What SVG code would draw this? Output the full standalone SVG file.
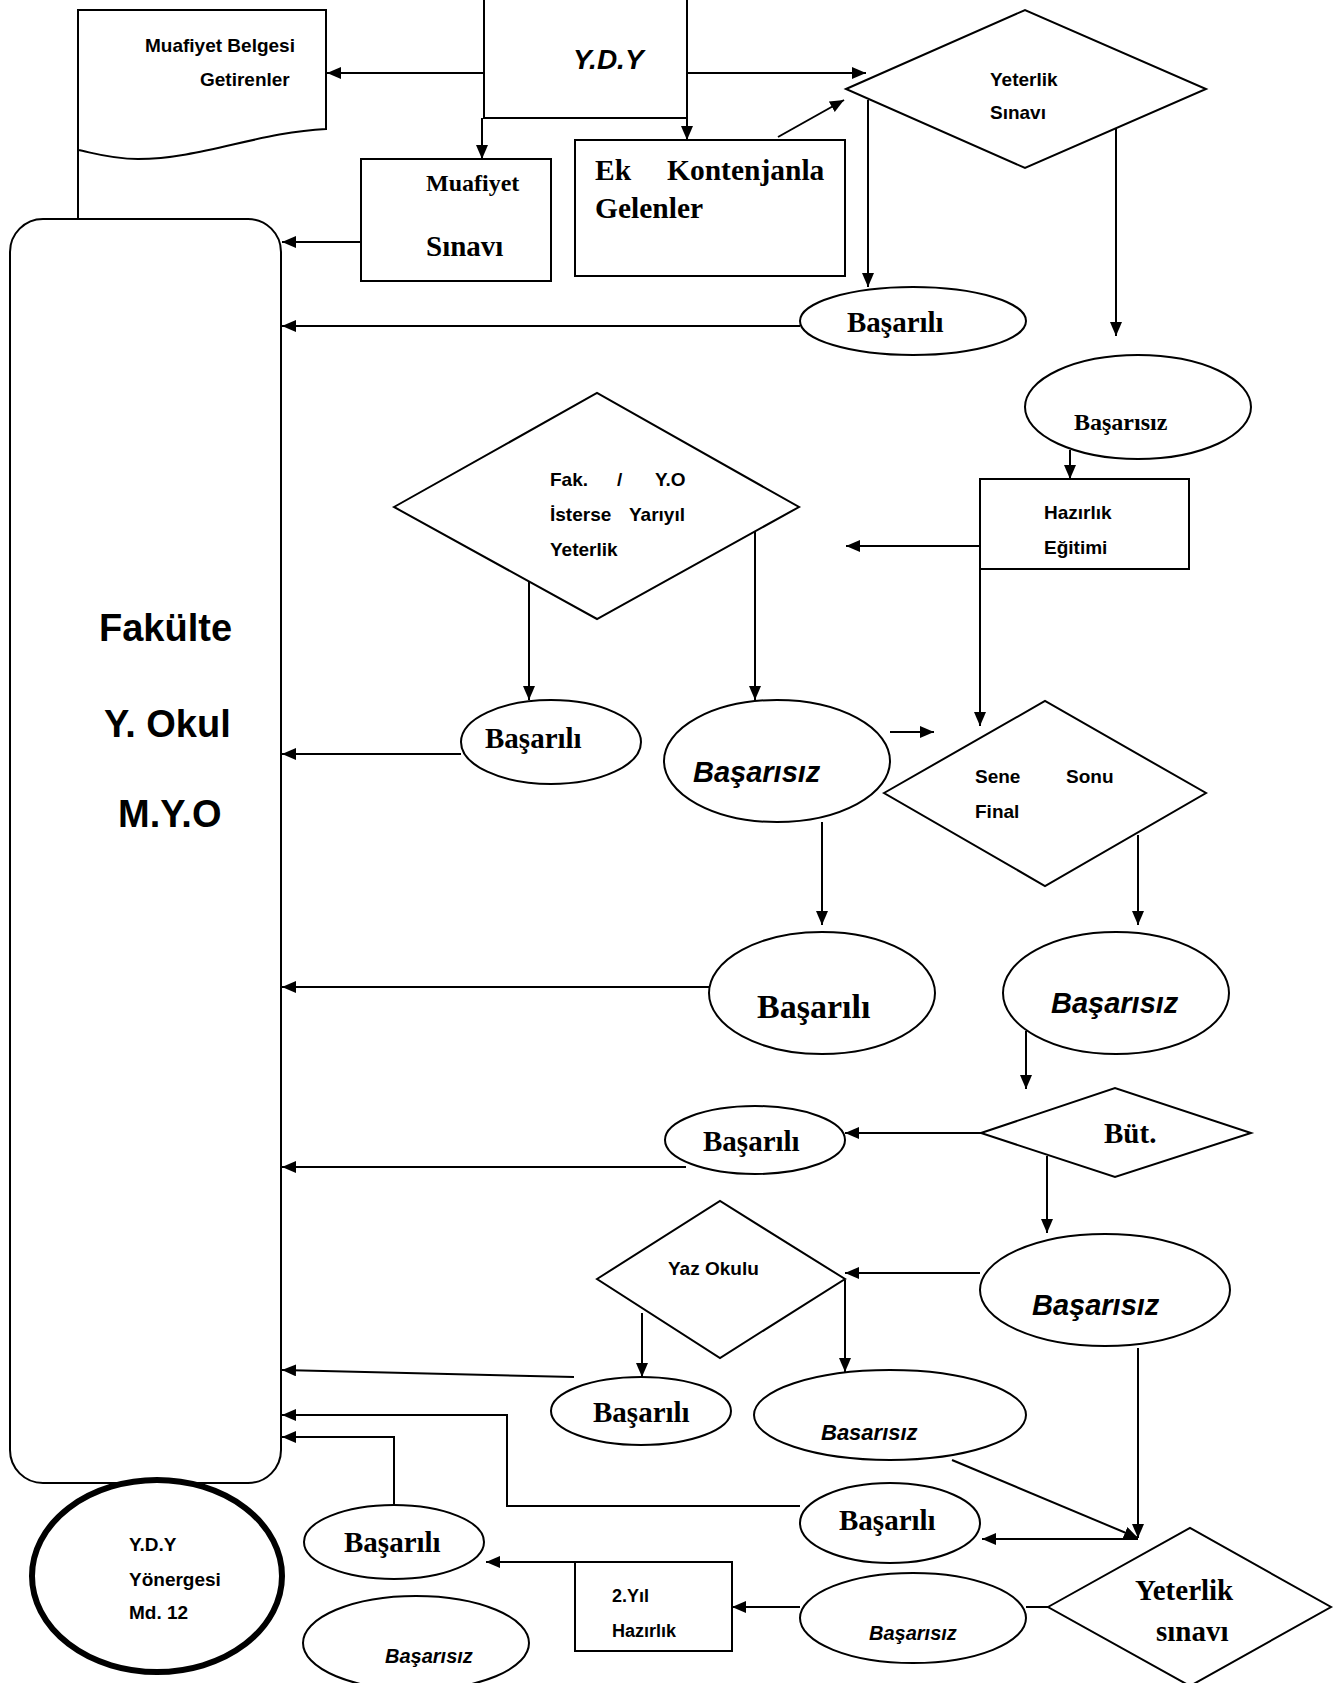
<svg xmlns="http://www.w3.org/2000/svg" width="1340" height="1683" viewBox="0 0 1340 1683">
<defs>
<marker id="ah" markerUnits="userSpaceOnUse" markerWidth="15" markerHeight="13" refX="14" refY="6" orient="auto">
<path d="M0,0 L14,6 L0,12 z" fill="#000"/>
</marker>
<style>
.s{fill:#fff;stroke:#000;stroke-width:2}
.c{fill:none;stroke:#000;stroke-width:2}
.a{fill:none;stroke:#000;stroke-width:2;marker-end:url(#ah)}
.ab{font-family:"Liberation Sans",Arial,sans-serif;font-weight:bold;fill:#000}
.abi{font-family:"Liberation Sans",Arial,sans-serif;font-weight:bold;font-style:italic;fill:#000}
.tb{font-family:"Liberation Serif","Times New Roman",serif;font-weight:bold;fill:#000}
</style>
</defs>
<rect width="1340" height="1683" fill="#fff"/>

<g id="connectors">
<line class="a" x1="484" y1="73" x2="327" y2="73"/>
<line class="a" x1="687" y1="73" x2="866" y2="73"/>
<line class="a" x1="482" y1="118" x2="482" y2="159"/>
<line class="a" x1="687" y1="118" x2="687" y2="140"/>
<line class="a" x1="778" y1="137" x2="844" y2="100"/>
<line class="a" x1="361" y1="242" x2="282" y2="242"/>
<line class="c" x1="78" y1="150" x2="78" y2="219"/>
<line class="a" x1="868" y1="100" x2="868" y2="287"/>
<line class="a" x1="1116" y1="128" x2="1116" y2="336"/>
<line class="a" x1="800" y1="326" x2="282" y2="326"/>
<line class="a" x1="1070" y1="450" x2="1070" y2="479"/>
<line class="a" x1="980" y1="546" x2="846" y2="546"/>
<line class="a" x1="980" y1="569" x2="980" y2="726"/>
<line class="a" x1="529" y1="573" x2="529" y2="700"/>
<line class="a" x1="755" y1="528" x2="755" y2="700"/>
<line class="a" x1="461" y1="754" x2="282" y2="754"/>
<line class="a" x1="890" y1="732" x2="934" y2="732"/>
<line class="a" x1="822" y1="822" x2="822" y2="925"/>
<line class="a" x1="1138" y1="835" x2="1138" y2="925"/>
<line class="a" x1="709" y1="987" x2="282" y2="987"/>
<line class="a" x1="1026" y1="1031" x2="1026" y2="1089"/>
<line class="a" x1="981" y1="1133" x2="845" y2="1133"/>
<line class="a" x1="686" y1="1167" x2="282" y2="1167"/>
<line class="a" x1="1047" y1="1156" x2="1047" y2="1233"/>
<line class="a" x1="980" y1="1273" x2="845" y2="1273"/>
<line class="a" x1="642" y1="1313" x2="642" y2="1377"/>
<line class="a" x1="845" y1="1280" x2="845" y2="1372"/>
<line class="a" x1="574" y1="1377" x2="282" y2="1370"/>
<line class="a" x1="1138" y1="1348" x2="1138" y2="1538"/>
<line class="a" x1="952" y1="1460" x2="1138" y2="1538"/>
<line class="a" x1="1138" y1="1539" x2="982" y2="1539"/>
<polyline class="a" points="800,1506 507,1506 507,1415 282,1415"/>
<line class="c" x1="1048" y1="1607" x2="1026" y2="1607"/>
<line class="a" x1="800" y1="1607" x2="732" y2="1607"/>
<line class="a" x1="575" y1="1562" x2="486" y2="1562"/>
<polyline class="a" points="394,1505 394,1437 282,1437"/>
</g>

<g id="muafiyet-belgesi">
<path class="s" d="M78,10 L326,10 L326,129 C260,132 200,159 138,159 C110,159 90,152 78,150 Z"/>
<text class="ab" font-size="19" x="145" y="52">Muafiyet Belgesi</text>
<text class="ab" font-size="19" x="200" y="86">Getirenler</text>
</g>

<g id="ydy">
<rect class="s" x="484" y="-2" width="203" height="120"/>
<text class="abi" font-size="28" x="573" y="69">Y.D.Y</text>
</g>

<g id="muafiyet-sinavi">
<rect class="s" x="361" y="159" width="190" height="122"/>
<text class="tb" font-size="24" x="426" y="191">Muafiyet</text>
<text class="tb" font-size="29" x="426" y="256">Sınavı</text>
</g>

<g id="ek-kontenjanla">
<rect class="s" x="575" y="140" width="270" height="136"/>
<text class="tb" font-size="29.5" y="180"><tspan x="595">Ek</tspan><tspan x="667">Kontenjanla</tspan></text>
<text class="tb" font-size="29.5" x="595" y="218">Gelenler</text>
</g>

<g id="yeterlik-sinavi">
<polygon class="s" points="846,89 1025,10 1206,89 1025,168"/>
<text class="ab" font-size="19" x="990" y="86">Yeterlik</text>
<text class="ab" font-size="19" x="990" y="119">Sınavı</text>
</g>

<g id="main">
<rect class="s" x="10" y="219" width="271" height="1264" rx="33" ry="33"/>
<text class="ab" font-size="38" x="99" y="641">Fakülte</text>
<text class="ab" font-size="38" x="104" y="737">Y. Okul</text>
<text class="ab" font-size="38" x="118" y="827">M.Y.O</text>
</g>

<g id="basarili-1">
<ellipse class="s" cx="913" cy="321" rx="113" ry="34"/>
<text class="tb" font-size="29" x="847" y="332">Başarılı</text>
</g>

<g id="basarisiz-1">
<ellipse class="s" cx="1138" cy="407" rx="113" ry="52"/>
<text class="tb" font-size="24" x="1074" y="430">Başarısız</text>
</g>

<g id="hazirlik">
<rect class="s" x="980" y="479" width="209" height="90"/>
<text class="ab" font-size="19" x="1044" y="519">Hazırlık</text>
<text class="ab" font-size="19" x="1044" y="554">Eğitimi</text>
</g>

<g id="fak-yo">
<polygon class="s" points="394,507 597,393 799,507 597,619"/>
<text class="ab" font-size="19" y="486"><tspan x="550">Fak.</tspan><tspan x="617">/</tspan><tspan x="655">Y.O</tspan></text>
<text class="ab" font-size="19" y="521"><tspan x="550">İsterse</tspan><tspan x="629">Yarıyıl</tspan></text>
<text class="ab" font-size="19" x="550" y="556">Yeterlik</text>
</g>

<g id="basarili-2">
<ellipse class="s" cx="551" cy="742" rx="90" ry="42"/>
<text class="tb" font-size="29" x="485" y="748">Başarılı</text>
</g>

<g id="basarisiz-2">
<ellipse class="s" cx="777" cy="761" rx="113" ry="61"/>
<text class="abi" font-size="29" x="693" y="782">Başarısız</text>
</g>

<g id="sene-sonu">
<polygon class="s" points="884,793 1045,701 1206,793 1045,886"/>
<text class="ab" font-size="19" y="783"><tspan x="975">Sene</tspan><tspan x="1066">Sonu</tspan></text>
<text class="ab" font-size="19" x="975" y="818">Final</text>
</g>

<g id="basarili-3">
<ellipse class="s" cx="822" cy="993" rx="113" ry="61"/>
<text class="tb" font-size="34" x="757" y="1018">Başarılı</text>
</g>

<g id="basarisiz-3">
<ellipse class="s" cx="1116" cy="993" rx="113" ry="61"/>
<text class="abi" font-size="29" x="1051" y="1013">Başarısız</text>
</g>

<g id="but">
<polygon class="s" points="981,1133 1115,1088 1251,1133 1115,1177"/>
<text class="tb" font-size="29" x="1104" y="1143">Büt.</text>
</g>

<g id="basarili-4">
<ellipse class="s" cx="755" cy="1140" rx="90" ry="34"/>
<text class="tb" font-size="29" x="703" y="1151">Başarılı</text>
</g>

<g id="basarisiz-4">
<ellipse class="s" cx="1105" cy="1290" rx="125" ry="56"/>
<text class="abi" font-size="29" x="1032" y="1315">Başarısız</text>
</g>

<g id="yaz-okulu">
<polygon class="s" points="597,1279 720,1201 845,1279 720,1358"/>
<text class="ab" font-size="19" x="668" y="1275">Yaz Okulu</text>
</g>

<g id="basarili-5">
<ellipse class="s" cx="641" cy="1411" rx="90" ry="34"/>
<text class="tb" font-size="29" x="593" y="1422">Başarılı</text>
</g>

<g id="basarisiz-5">
<ellipse class="s" cx="890" cy="1415" rx="136" ry="45"/>
<text class="abi" font-size="22" x="821" y="1440">Basarısız</text>
</g>

<g id="basarili-6">
<ellipse class="s" cx="890" cy="1523" rx="90" ry="40"/>
<text class="tb" font-size="29" x="839" y="1530">Başarılı</text>
</g>

<g id="yeterlik-sinavi-2">
<polygon class="s" points="1048,1607 1190,1528 1331,1607 1190,1686"/>
<text class="tb" font-size="29" x="1135" y="1600">Yeterlik</text>
<text class="tb" font-size="29" x="1156" y="1641">sınavı</text>
</g>

<g id="basarisiz-6">
<ellipse class="s" cx="913" cy="1618" rx="113" ry="45"/>
<text class="abi" font-size="20" x="869" y="1640">Başarısız</text>
</g>

<g id="ikinci-yil">
<rect class="s" x="575" y="1562" width="157" height="89"/>
<text class="ab" font-size="18" x="612" y="1602">2.Yıl</text>
<text class="ab" font-size="18" x="612" y="1637">Hazırlık</text>
</g>

<g id="basarili-7">
<ellipse class="s" cx="394" cy="1542" rx="90" ry="37"/>
<text class="tb" font-size="29" x="344" y="1552">Başarılı</text>
</g>

<g id="basarisiz-7">
<ellipse class="s" cx="416" cy="1643" rx="113" ry="47"/>
<text class="abi" font-size="20" x="385" y="1663">Başarısız</text>
</g>

<g id="ydy-yonergesi">
<ellipse cx="157" cy="1576" rx="125" ry="96" fill="#fff" stroke="#000" stroke-width="6"/>
<text class="ab" font-size="19" x="129" y="1551">Y.D.Y</text>
<text class="ab" font-size="19" x="129" y="1586">Yönergesi</text>
<text class="ab" font-size="19" x="129" y="1619">Md. 12</text>
</g>
</svg>
